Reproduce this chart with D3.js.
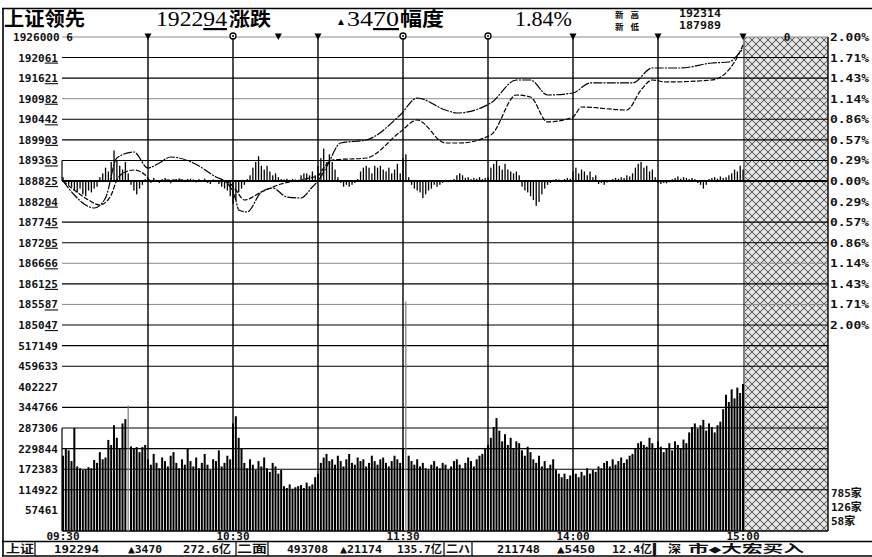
<!DOCTYPE html>
<html><head><meta charset="utf-8">
<script src="https://cdn.jsdelivr.net/npm/d3@7"></script>
<style>
html,body{margin:0;padding:0;background:#fff;}
svg{display:block;}
.lbl{font-family:"DejaVu Sans Mono",monospace;font-weight:bold;font-size:11px;fill:#111;}
.cjk{font-family:"Noto Sans CJK SC",sans-serif;font-weight:700;fill:#000;}
.num{font-family:"Liberation Serif",serif;fill:#000;}
.sb{font-family:"DejaVu Sans Mono","Noto Sans CJK SC",monospace;font-weight:bold;font-size:11px;fill:#111;}
</style></head><body>
<svg id="c" width="872" height="557"></svg>
<script>
// ---------------- data ----------------
const prevClose = 1888.25;
const pctLabels = ["2.00%","1.71%","1.43%","1.14%","0.86%","0.57%","0.29%","0.00%","0.29%","0.57%","0.86%","1.14%","1.43%","1.71%","2.00%"];
const priceLabels = ["1926000 6","192061","191621","190982","190442","189903","189363","188825","188204","187745","187205","186666","186125","185587","185047"];
const volLabels = [517149,459633,402227,344766,287306,229844,172383,114922,57461];
const timeLabels = ["09:30","10:30","11:30","14:00","15:00"];
const gridTimes = ["10:00","10:30","11:00","11:30","13:30","14:00","14:30"];
const markerTimes = ["10:00","10:30","10:46","11:00","11:30","13:30","14:00","14:30","15:00"];
const markerTypes = ["tri","circ","tri","tri","circ","circ","tri","tri","tri"];
const breadthLabels = ["785家","126家","58家"];

const indexTimes = ["09:30","09:34","09:38","09:41","09:45","09:49","09:55","10:00","10:04","10:08","10:16","10:24","10:28","10:31","10:32","10:35","10:40","10:44","10:49","10:54","10:58","11:00","11:03","11:08","11:17","11:29","13:05","13:15","13:19","13:31","13:40","13:45","13:51","14:00","14:06","14:21","14:28","14:38","14:49","14:55","14:59","15:00"];
const indexValues = [1888.25,1884.58,1881.95,1881.17,1883.79,1894.28,1895.86,1891.66,1892.97,1894.55,1892.97,1889.30,1887.73,1883.27,1880.64,1880.12,1885.36,1886.41,1884.05,1883.79,1886.68,1888.25,1891.92,1898.22,1899.00,1905.56,1910.02,1906.87,1906.09,1908.71,1914.74,1914.74,1910.81,1911.33,1913.96,1913.96,1917.89,1917.89,1919.20,1919.46,1922.10,1922.94];

const leadTimes = ["09:30","09:34","09:39","09:43","09:47","09:49","09:52","09:55","09:59","10:01","10:10","10:18","10:28","10:31","10:34","10:40","10:47","10:54","10:57","11:00","11:02","11:05","11:17","11:29","13:05","13:15","13:20","13:31","13:40","13:45","13:51","14:00","14:03","14:19","14:24","14:28","14:33","14:49","14:57","15:00"];
const leadValues = [1888.25,1885.89,1883.27,1881.95,1884.58,1888.51,1890.61,1891.14,1889.82,1888.25,1888.51,1888.25,1887.99,1885.89,1883.27,1885.36,1887.46,1888.51,1889.04,1889.56,1891.66,1893.76,1894.28,1901.10,1904.25,1898.22,1898.22,1900.32,1910.81,1910.28,1903.73,1905.04,1907.66,1906.87,1912.12,1914.74,1914.22,1914.74,1919.46,1923.92];

// leading-strength bars, index points per minute (241 minutes)
const momentum = [
 1,0,-1,
 -1.5,-2.5,-3,-2,-3.5,-4,-2.5,-3,-2,-1.5,
 1,2,3.5,2.5,5,8,5.5,4,
 3,5,2,
 -1,-2.5,-3.5,-2,
 -1,0.5,
 0.5,-0.5,0.8,0.3,-0.5,0.5,0.8,0.4,-0.6,0.3,0.5,0.7,0.4,-0.3,0.5,0.6,0.4,-0.4,0.5,0.3,0.6,-0.5,-0.8,0.4,0.3,
 -0.8,-1.5,-2,-2.5,-4,-6,-5,-3,
 -2,-1,0.5,1.5,
 3.5,5,6.5,4,
 3,4,2.5,1.5,2,1,
 0.5,0.4,0.6,0.3,0.5,0.4,0.3,1.5,2,
 2,1.5,2.5,1.5,
 4,6,8.5,5,7,5,3,
 1,-0.5,-1.5,-1,
 -1.5,-1,-0.5,0.5,
 2.5,3.5,4,3.5,2,4,3.5,4,3,2.5,3.5,2,
 3,4.5,2,
 6,7,
 1,-1,
 -2,-2.5,-3,-4.5,-3.5,-2.5,-2,-1,
 -1.5,-1,-0.5,0.3,-0.3,
 0.3,0.5,1.5,2,1.5,
 0.8,1,0.5,0.8,0.6,1,0.5,0.8,1,
 3.5,4.5,5.5,4,3,4.5,3,2.5,
 2,2.5,1.5,
 -1.5,-2.5,-3,-4,-5,-6.5,-5.5,-3.5,-2,
 -1,-0.5,0.3,0.5,0.4,-0.3,0.5,0.8,0.6,
 2.5,3.5,2,3,2.5,1.5,2.5,1,1.5,
 -0.8,-0.5,-1,-0.4,0.3,
 0.5,0.8,0.6,1,0.8,1.5,1.2,
 2,3.5,4.5,5,3.5,
 4,2.5,3,
 1,-0.5,-0.8,-0.5,-0.6,-0.3,
 0.5,0.8,1.2,0.6,1,0.8,0.5,0.8,
 0.5,-0.5,-1,
 -2,-1,
 0.5,0.8,1,0.6,1.2,0.8,1,1.5,2,
 3,2.5,4,3
];

// volume per minute, thousands (241 minutes)
const volume = [
 210,230,225,195,287,180,175,170,172,178,175,198,190,220,200,205,254,240,295,260,230,300,312,350,236,230,234,220,234,240,
 200,185,215,190,175,205,195,180,210,220,190,175,200,185,230,195,180,205,175,190,215,185,170,200,195,225,180,190,210,200,
 300,320,260,230,
 190,175,200,185,170,195,180,205,175,165,190,180,160,170,
 125,120,130,118,122,125,128,120,135,125,130,150,160,
 190,205,215,195,200,185,210,195,180,200,215,190,185,205,195,200,180,190,210,195,185,200,205,190,180,195,210,200,190,
 230,640,210,
 195,185,200,180,190,175,170,185,195,180,175,190,185,170,180,195,200,185,175,190,205,195,180,200,210,215,230,
 240,260,290,315,280,250,270,240,260,230,250,245,225,210,235,220,
 200,190,210,180,195,175,185,200,170,160,
 150,160,145,155,170,160,150,165,155,175,160,170,165,180,175,
 190,195,180,200,185,195,205,190,200,210,215,230,245,
 250,240,235,260,245,230,250,235,220,
 230,245,225,250,240,230,255,245,
 275,290,300,285,295,310,280,300,290,275,295,305,
 340,380,360,395,370,400,385,410
];

// ---------------- drawing ----------------
const GRAY_BARS = [23,121];
const svg = d3.select("#c");
const minuteIndex = t => { const [h,m]=t.split(":").map(Number); const tot=h*60+m; return tot<=690 ? tot-570 : tot-780+120; };

const L = 62, R = 828, HATCH = 745;
const x = d3.scaleLinear().domain([0,240]).range([63,743]);
const y = d3.scaleLinear().domain([prevClose*0.98, prevClose*1.02]).range([325,37]);
const v = d3.scaleLinear().domain([0,574.61]).range([531,325]);
const pctStep = 0.02/7;

// hatch pattern
const defs = svg.append("defs");
const pat = defs.append("pattern").attr("id","hatch").attr("patternUnits","userSpaceOnUse").attr("width",8).attr("height",8);
pat.append("rect").attr("width",8).attr("height",8).attr("fill","#d9d9d9");
pat.append("path").attr("d","M0,0L8,8M8,0L0,8").attr("stroke","#3a3a3a").attr("stroke-width",0.8);
pat.append("circle").attr("cx",4).attr("cy",0).attr("r",0.9).attr("fill","#fff");
pat.append("circle").attr("cx",0).attr("cy",4).attr("r",0.9).attr("fill","#fff");
pat.append("circle").attr("cx",8).attr("cy",4).attr("r",0.9).attr("fill","#fff");
pat.append("circle").attr("cx",4).attr("cy",8).attr("r",0.9).attr("fill","#fff");

svg.append("rect").attr("x",HATCH).attr("y",37).attr("width",R-HATCH).attr("height",531-37).attr("fill","url(#hatch)");

// frame
svg.append("line").attr("x1",2).attr("x2",872).attr("y1",8.5).attr("y2",8.5).attr("stroke","#000").attr("stroke-width",1.6);
svg.append("line").attr("x1",3).attr("x2",3).attr("y1",8).attr("y2",556).attr("stroke","#000").attr("stroke-width",1.6);
svg.append("line").attr("x1",2).attr("x2",872).attr("y1",541.5).attr("y2",541.5).attr("stroke","#000").attr("stroke-width",1.4);
svg.append("line").attr("x1",2).attr("x2",872).attr("y1",556).attr("y2",556).attr("stroke","#000").attr("stroke-width",1.4);

// price rows
const rowStyle = i => i===8 ? null : ([0,3,11,13].includes(i) ? ["#8a8a8a",1] : (i===7 ? ["#000",1.8] : ["#000",1.1]));
pctLabels.forEach((p,i) => {
  const yy = y(prevClose*(1+(7-i)*pctStep));
  const st = rowStyle(i);
  if (st) svg.append("line").attr("x1",L).attr("x2",R).attr("y1",yy).attr("y2",yy).attr("stroke",st[0]).attr("stroke-width",st[1]);
  svg.append("text").attr("class","lbl").attr("x",830).attr("y",yy+4).attr("textLength",39).attr("lengthAdjust","spacingAndGlyphs").text(p);
});
priceLabels.forEach((p,i) => {
  const yy = y(prevClose*(1+(7-i)*pctStep));
  if (i===0) {
    svg.append("text").attr("class","lbl").attr("x",13).attr("y",yy+4).attr("font-size","10px").attr("textLength",60).attr("lengthAdjust","spacingAndGlyphs").text(p);
    return;
  }
  const t = svg.append("text").attr("class","lbl").attr("x",58).attr("y",yy+4).attr("text-anchor","end");
  t.append("tspan").text(p.slice(0,4));
  t.append("tspan").style("text-decoration","underline").text(p.slice(4));
});
// volume rows
volLabels.forEach(val => {
  const yy = v(val/1000);
  if (![57461,402227].includes(val))
    svg.append("line").attr("x1",L).attr("x2",R).attr("y1",yy).attr("y2",yy).attr("stroke","#000").attr("stroke-width",1.1);
  svg.append("text").attr("class","lbl").attr("x",58).attr("y",yy+4).attr("text-anchor","end").text(val);
});
// axes lines
svg.append("line").attr("x1",L).attr("x2",R).attr("y1",531).attr("y2",531).attr("stroke","#000").attr("stroke-width",1.4);
svg.append("line").attr("x1",R).attr("x2",R).attr("y1",37).attr("y2",531).attr("stroke","#000").attr("stroke-width",1.4);
svg.append("line").attr("x1",L).attr("x2",L).attr("y1",y(prevClose*(1+pctStep))).attr("y2",y(prevClose)).attr("stroke","#000").attr("stroke-width",1.2);
svg.append("line").attr("x1",L).attr("x2",L).attr("y1",v(287.306)).attr("y2",531).attr("stroke","#000").attr("stroke-width",1.2);
svg.append("line").attr("x1",HATCH-1).attr("x2",HATCH-1).attr("y1",37).attr("y2",531).attr("stroke","#000").attr("stroke-width",1);

// vertical grid
gridTimes.forEach(t => {
  const xx = x(minuteIndex(t));
  svg.append("line").attr("x1",xx).attr("x2",xx).attr("y1",37).attr("y2",531).attr("stroke","#000").attr("stroke-width",1.4);
});

// volume bars
svg.append("g").selectAll("rect").data(volume).join("rect")
  .attr("x",(d,i)=>x(i)-(GRAY_BARS.includes(i)?0.6:1)).attr("width",(d,i)=>GRAY_BARS.includes(i)?1.2:2)
  .attr("y",d=>v(d)).attr("height",d=>531-v(d))
  .attr("fill",(d,i)=>GRAY_BARS.includes(i)?"#777":"#000");

// momentum bars
svg.append("g").selectAll("rect").data(momentum).join("rect")
  .attr("x",(d,i)=>x(i)-0.6).attr("width",1.3)
  .attr("y",d=>Math.min(y(prevClose+d),y(prevClose))).attr("height",d=>Math.abs(y(prevClose+d)-y(prevClose)))
  .attr("fill","#000");

// lines
const line = d3.line().x(d=>x(minuteIndex(d[0]))).y(d=>y(d[1])).curve(d3.curveMonotoneX);
svg.append("path").attr("d",line(d3.zip(leadTimes,leadValues))).attr("fill","none").attr("stroke","#000").attr("stroke-width",1.2).attr("stroke-dasharray","5,1.6");
svg.append("path").attr("d",line(d3.zip(indexTimes,indexValues))).attr("fill","none").attr("stroke","#000").attr("stroke-width",1.2).attr("stroke-dasharray","9,1.2,2,1.2");

// markers
markerTimes.forEach((t,i) => {
  const xx = x(minuteIndex(t));
  if (markerTypes[i]==="tri") {
    svg.append("path").attr("d",`M${xx-3.5},33.5L${xx+3.5},33.5L${xx},40Z`).attr("fill","#000");
  } else {
    svg.append("circle").attr("cx",xx).attr("cy",36).attr("r",3).attr("fill","#fff").attr("stroke","#000").attr("stroke-width",1.3);
    svg.append("circle").attr("cx",xx).attr("cy",36).attr("r",1).attr("fill","#000");
  }
});
svg.append("text").attr("class","lbl").attr("x",787).attr("y",41).attr("text-anchor","middle").text("0");

// time labels
timeLabels.forEach(t => {
  svg.append("text").attr("class","lbl").attr("x",x(minuteIndex(t))).attr("y",540).attr("text-anchor","middle").text(t);
});

// breadth
breadthLabels.forEach((b,i) => {
  svg.append("text").attr("class","sb").attr("x",831).attr("y",497+i*14).attr("font-size","10px").text(b);
});

// title
svg.append("text").attr("class","cjk").attr("x",4).attr("y",26).attr("font-size","19px").attr("textLength",81).attr("lengthAdjust","spacingAndGlyphs").text("上证领先");
const t1 = svg.append("text").attr("class","num").attr("x",156).attr("y",26).attr("font-size","22px").attr("textLength",71).attr("lengthAdjust","spacingAndGlyphs");
t1.append("tspan").text("1922"); t1.append("tspan").style("text-decoration","underline").text("94");
svg.append("text").attr("class","cjk").attr("x",229).attr("y",26).attr("font-size","19px").attr("textLength",42).attr("lengthAdjust","spacingAndGlyphs").text("涨跌");
svg.append("text").attr("class","num").attr("x",336).attr("y",25).attr("font-size","10px").text("▲");
const t2 = svg.append("text").attr("class","num").attr("x",347).attr("y",26).attr("font-size","22px").attr("textLength",52).attr("lengthAdjust","spacingAndGlyphs");
t2.append("tspan").text("34"); t2.append("tspan").style("text-decoration","underline").text("70");
svg.append("text").attr("class","cjk").attr("x",400).attr("y",26).attr("font-size","19px").attr("textLength",44).attr("lengthAdjust","spacingAndGlyphs").text("幅度");
svg.append("text").attr("class","num").attr("x",515).attr("y",26).attr("font-size","21px").attr("textLength",57).attr("lengthAdjust","spacingAndGlyphs").text("1.84%");
svg.append("text").attr("class","cjk").attr("x",615).attr("y",18).attr("font-size","8.5px").attr("textLength",24).text("新高");
svg.append("text").attr("class","cjk").attr("x",615).attr("y",30).attr("font-size","8.5px").attr("textLength",24).text("新低");
svg.append("text").attr("class","lbl").attr("x",679).attr("y",17).attr("font-size","9px").attr("textLength",42).attr("lengthAdjust","spacingAndGlyphs").text("192314");
svg.append("text").attr("class","lbl").attr("x",679).attr("y",29).attr("font-size","9px").attr("textLength",42).attr("lengthAdjust","spacingAndGlyphs").text("187989");

// status bar
const sbItems = [
  ["上证",6,28],["192294",54,45],["▲3470",128,34],["272.6亿",183,48],["二面",237,30],
  ["493708",287,41],["▲21174",340,42],["135.7亿",397,45],["二ハ",446,24],
  ["211748",497,43],["▲5450",557,38],["12.4亿",612,40],["▌",653,6],["深",668,13],["市◆大宏买入",688,116]
];
sbItems.forEach(([s,xx,w]) => {
  svg.append("text").attr("class","sb").attr("x",xx).attr("y",553).attr("textLength",w).attr("lengthAdjust","spacingAndGlyphs").text(s);
});
[35,236,268,444,472].forEach(xx => {
  svg.append("line").attr("x1",xx).attr("x2",xx).attr("y1",542).attr("y2",556).attr("stroke","#000").attr("stroke-width",1.2);
});
</script></body></html>
